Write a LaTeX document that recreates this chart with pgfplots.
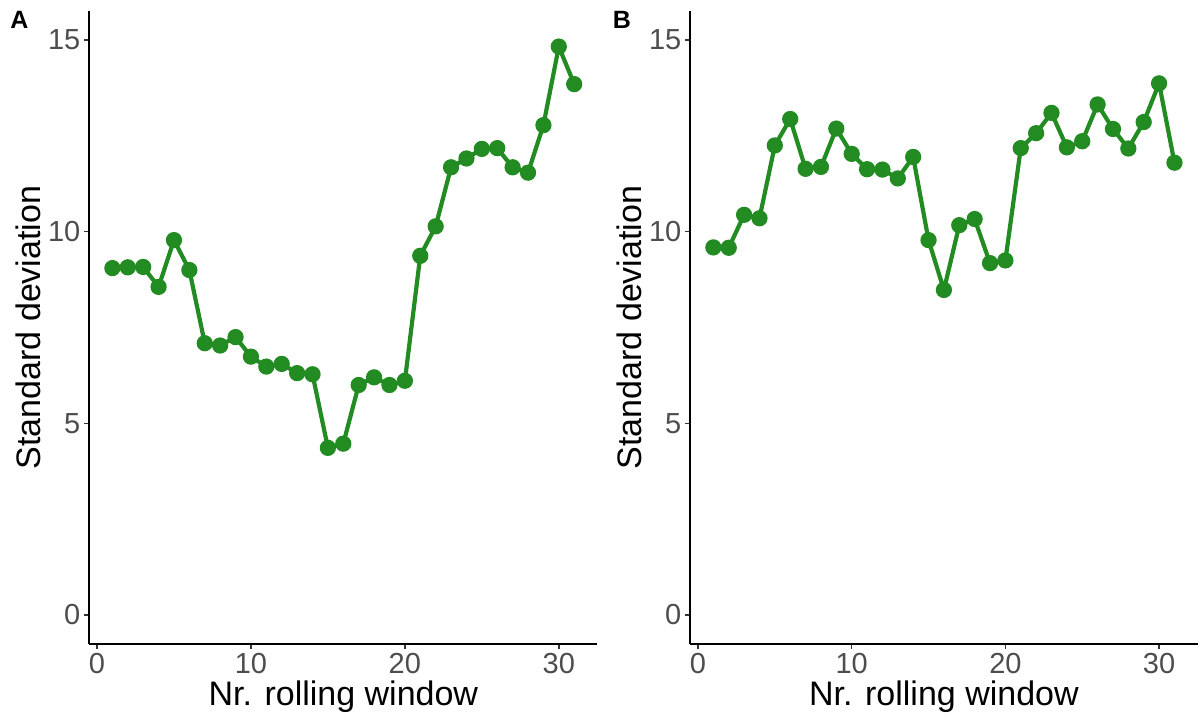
\documentclass[border=0pt]{standalone}
\usepackage{pgfplots}
\pgfplotsset{compat=1.18}
\usepackage{pgfplotstable}
\usepackage{fontspec}
\setmainfont{Liberation Sans}
\definecolor{lgreen}{RGB}{34,139,34}
\definecolor{tickgray}{RGB}{77,77,77}
\definecolor{tickline}{RGB}{51,51,51}

\pgfplotstableread{
x y
1 9.05
2 9.07
3 9.08
4 8.56
5 9.78
6 9.00
7 7.09
8 7.03
9 7.25
10 6.74
11 6.48
12 6.55
13 6.31
14 6.28
15 4.36
16 4.47
17 6.00
18 6.20
19 6.00
20 6.11
21 9.37
22 10.14
23 11.68
24 11.91
25 12.16
26 12.18
27 11.68
28 11.54
29 12.78
30 14.83
31 13.85
}\dataA

\pgfplotstableread{
x y
1 9.59
2 9.58
3 10.44
4 10.35
5 12.25
6 12.94
7 11.64
8 11.69
9 12.69
10 12.03
11 11.63
12 11.62
13 11.39
14 11.95
15 9.78
16 8.48
17 10.17
18 10.33
19 9.18
20 9.25
21 12.18
22 12.57
23 13.10
24 12.20
25 12.36
26 13.32
27 12.68
28 12.17
29 12.86
30 13.87
31 11.80
}\dataB

\pgfplotsset{
  panel/.style={
    anchor=south west,
    scale only axis,
    height=316.2pt,
    xmin=-0.5, xmax=32.5,
    ymin=-0.75, ymax=15.75,
    axis x line*=bottom,
    axis y line*=left,
    axis line style={black, line width=0.9pt},
    xtick={0,10,20,30},
    ytick={0,5,10,15},
    tick align=outside,
    major tick length=2.7pt,
    tick style={tickline, line width=0.8pt},
    minor tick num=0,
    /pgf/number format/assume math mode=true,
    ticklabel style={font=\fontsize{14.5}{16}\selectfont, text=tickgray, inner sep=0pt},
    xticklabel style={yshift=-1.9pt},
    yticklabel style={xshift=-1.6pt},
    xlabel={Nr. rolling window},
    ylabel={Standard deviation},
    every axis x label/.style={at={(rel axis cs:0.5,0)}, anchor=center, yshift=-26.6pt, font=\fontsize{17}{19}\selectfont, text=black},
    every axis y label/.style={at={(rel axis cs:0,0.5)}, anchor=center, xshift=-30.6pt, rotate=90, font=\fontsize{17}{19}\selectfont, text=black},
    clip=false,
  },
  gline/.style={lgreen, line width=2.1pt, mark=*, mark size=3.0pt, mark options={fill=lgreen, draw=none}},
}

\begin{document}
\begin{tikzpicture}[x=1pt,y=1pt]
\path[use as bounding box] (0,0) rectangle (599,360);

\begin{axis}[panel, at={(44.65pt,38.15pt)}, width=254pt]
\addplot[gline] table[x=x,y=y] {\dataA};
\end{axis}

\begin{axis}[panel, at={(345.15pt,38.15pt)}, width=253.6pt]
\addplot[gline] table[x=x,y=y] {\dataB};
\end{axis}

\node[font=\fontsize{12.5}{14}\selectfont\bfseries] at (9.75,350.25) {A};
\node[font=\fontsize{12.5}{14}\selectfont\bfseries] at (311,350.25) {B};
\end{tikzpicture}
\end{document}
